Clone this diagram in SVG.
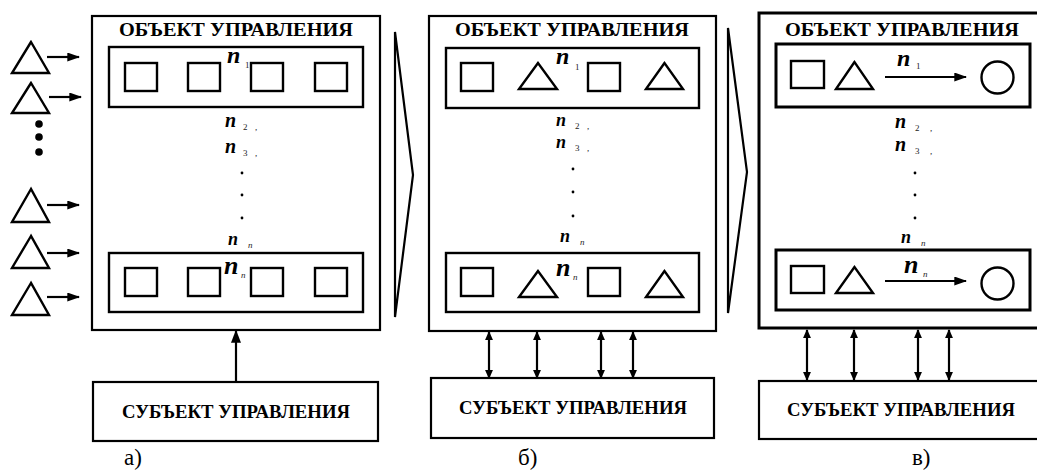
<svg xmlns="http://www.w3.org/2000/svg" width="1037" height="470" viewBox="0 0 1037 470">
  <style>
    .box { fill: none; stroke: #000; stroke-width: 2.2; }
    .boxc { fill: none; stroke: #000; stroke-width: 3; }
    .shape { fill: none; stroke: #000; stroke-width: 2.4; stroke-linejoin: miter; }
    .line { fill: none; stroke: #000; stroke-width: 2.2; }
    text { font-family: "Liberation Serif", "Times New Roman", "DejaVu Serif", serif; fill: #000; }
    .title { font-weight: bold; font-size: 19px; text-anchor: middle; }
    .nb { font-weight: bold; font-style: italic; }
    .sub { font-size: 9px; fill: #222; }
    .lbl { font-size: 23px; }
  </style>
  <defs>
    <!-- long filled head for one-way arrows -->
    <marker id="ah" viewBox="0 0 10 10" refX="9" refY="5" markerWidth="13" markerHeight="9" preserveAspectRatio="none" orient="auto-start-reverse" markerUnits="userSpaceOnUse">
      <path d="M0,0 L10,5 L0,10 z" fill="#000"/>
    </marker>
    <!-- short head for two-way links -->
    <marker id="ahs" viewBox="0 0 10 10" refX="9" refY="5" markerWidth="9" markerHeight="8" preserveAspectRatio="none" orient="auto-start-reverse" markerUnits="userSpaceOnUse">
      <path d="M0,0 L10,5 L0,10 z" fill="#000"/>
    </marker>
    <!-- head for the subject-to-object arrow -->
    <marker id="ahb" viewBox="0 0 10 10" refX="9" refY="5" markerWidth="13" markerHeight="10" preserveAspectRatio="none" orient="auto" markerUnits="userSpaceOnUse">
      <path d="M0,0 L10,5 L0,10 z" fill="#000"/>
    </marker>
  </defs>

  <rect width="1037" height="470" fill="#fff"/>

  <!-- Panel a: incoming elements -->
  <g id="inputs-a">
    <polygon class="shape" points="31,42 12,73 49,73"/>
    <polygon class="shape" points="31,83 12,113 49,113"/>
    <circle cx="39" cy="124" r="3.8"/>
    <circle cx="39" cy="137" r="3.8"/>
    <circle cx="39" cy="152" r="3.8"/>
    <polygon class="shape" points="31,189 12,222 49,222"/>
    <polygon class="shape" points="31,236 12,268 49,268"/>
    <polygon class="shape" points="31,283 12,315 49,315"/>
  </g>

  <!-- Panel a: control object -->
  <g id="object-a">
    <rect class="box" x="92" y="16" width="288" height="314"/>
    <text class="title" x="236" y="36" textLength="234" lengthAdjust="spacingAndGlyphs">ОБЪЕКТ УПРАВЛЕНИЯ</text>
    <rect class="shape" x="109" y="47" width="254" height="60"/>
    <rect class="shape" x="125" y="63" width="32" height="28"/>
    <rect class="shape" x="188" y="63" width="32" height="28"/>
    <rect class="shape" x="251" y="63" width="32" height="28"/>
    <rect class="shape" x="315" y="63" width="32" height="28"/>
    <text class="nb" x="227" y="63" font-size="24">n</text>
    <text class="sub" x="245" y="68">1</text>
    <text class="nb" x="225" y="127" font-size="20">n</text>
    <text class="sub" x="243" y="130">2</text>
    <text class="sub" x="255" y="130">,</text>
    <text class="nb" x="225" y="153" font-size="20">n</text>
    <text class="sub" x="243" y="156">3</text>
    <text class="sub" x="255" y="156">,</text>
    <circle cx="242" cy="173" r="1.4"/>
    <circle cx="242" cy="195" r="1.4"/>
    <circle cx="242" cy="218" r="1.4"/>
    <text class="nb" x="228" y="245" font-size="18">n</text>
    <text class="sub" x="248" y="248" font-size="7" font-style="italic">n</text>
    <rect class="shape" x="109" y="253" width="254" height="59"/>
    <rect class="shape" x="125" y="268" width="32" height="28"/>
    <rect class="shape" x="188" y="268" width="32" height="28"/>
    <rect class="shape" x="251" y="268" width="32" height="28"/>
    <rect class="shape" x="315" y="268" width="32" height="28"/>
    <text class="nb" x="224" y="274" font-size="26">n</text>
    <text class="sub" x="241" y="278" font-size="10" font-style="italic">n</text>
  </g>

  <!-- Panel a: control subject -->
  <g id="subject-a">
    <rect class="box" x="93" y="382" width="285" height="59"/>
    <text class="title" x="236" y="418" textLength="228" lengthAdjust="spacingAndGlyphs">СУБЪЕКТ УПРАВЛЕНИЯ</text>
  </g>

  <!-- Transition markers between panels -->
  <g id="step-ab">
    <polygon class="line" points="395,32 413,175 395,317"/>
  </g>
  <g id="step-bc">
    <polygon class="line" points="728,28 747,172 728,313"/>
  </g>

  <!-- Panel b: control object -->
  <g id="object-b">
    <rect class="box" x="429" y="16" width="287" height="315"/>
    <text class="title" x="572" y="36" textLength="234" lengthAdjust="spacingAndGlyphs">ОБЪЕКТ УПРАВЛЕНИЯ</text>
    <rect class="shape" x="446" y="48" width="253" height="60"/>
    <rect class="shape" x="461" y="63" width="32" height="28"/>
    <polygon class="shape" points="538,63 519,89 557,89"/>
    <rect class="shape" x="588" y="63" width="32" height="28"/>
    <polygon class="shape" points="664.5,63 646,89 683,89"/>
    <text class="nb" x="556" y="64" font-size="24">n</text>
    <text class="sub" x="575" y="70">1</text>
    <text class="nb" x="556" y="126" font-size="18">n</text>
    <text class="sub" x="575" y="129">2</text>
    <text class="sub" x="587" y="129">,</text>
    <text class="nb" x="556" y="148" font-size="18">n</text>
    <text class="sub" x="575" y="151">3</text>
    <text class="sub" x="587" y="151">,</text>
    <circle cx="573" cy="169" r="1.4"/>
    <circle cx="573" cy="192" r="1.4"/>
    <circle cx="573" cy="216" r="1.4"/>
    <text class="nb" x="560" y="242" font-size="18">n</text>
    <text class="sub" x="580" y="245" font-size="7" font-style="italic">n</text>
    <rect class="shape" x="446" y="253" width="253" height="59"/>
    <rect class="shape" x="461" y="268" width="32" height="28"/>
    <polygon class="shape" points="538,271 519,297 557,297"/>
    <rect class="shape" x="588" y="268" width="32" height="28"/>
    <polygon class="shape" points="664.5,271 646,297 683,297"/>
    <text class="nb" x="556" y="276" font-size="26">n</text>
    <text class="sub" x="573" y="280" font-size="10" font-style="italic">n</text>
  </g>

  <!-- Panel b: control subject -->
  <g id="subject-b">
    <rect class="box" x="431" y="378" width="283" height="60"/>
    <text class="title" x="573" y="414" textLength="228" lengthAdjust="spacingAndGlyphs">СУБЪЕКТ УПРАВЛЕНИЯ</text>
  </g>

  <!-- Panel c: control object -->
  <g id="object-c">
    <rect class="boxc" x="759" y="13" width="290" height="315"/>
    <text class="title" x="902" y="36" textLength="234" lengthAdjust="spacingAndGlyphs">ОБЪЕКТ УПРАВЛЕНИЯ</text>
    <rect class="boxc" x="776" y="44" width="254" height="63"/>
    <rect class="shape" x="791" y="61" width="33" height="27"/>
    <polygon class="shape" points="854.5,62 836,89 873,89"/>
    <circle class="shape" cx="997.5" cy="77.5" r="16"/>
    <text class="nb" x="897" y="66" font-size="24">n</text>
    <text class="sub" x="916" y="69">1</text>
    <text class="nb" x="895" y="128" font-size="20">n</text>
    <text class="sub" x="915" y="131">2</text>
    <text class="sub" x="930" y="131">,</text>
    <text class="nb" x="895" y="151" font-size="20">n</text>
    <text class="sub" x="915" y="154">3</text>
    <text class="sub" x="930" y="154">,</text>
    <circle cx="915" cy="173" r="1.4"/>
    <circle cx="915" cy="195" r="1.4"/>
    <circle cx="915" cy="218" r="1.4"/>
    <text class="nb" x="901" y="243" font-size="18">n</text>
    <text class="sub" x="921" y="246" font-size="7" font-style="italic">n</text>
    <rect class="boxc" x="776" y="250" width="254" height="60"/>
    <rect class="shape" x="791" y="266" width="33" height="27"/>
    <polygon class="shape" points="854.5,267 836,293 873,293"/>
    <circle class="shape" cx="997.5" cy="283.5" r="16"/>
    <text class="nb" x="904" y="273" font-size="26">n</text>
    <text class="sub" x="923" y="277" font-size="10" font-style="italic">n</text>
  </g>

  <!-- Panel c: control subject -->
  <g id="subject-c">
    <rect class="box" x="759" y="381" width="290" height="58"/>
    <text class="title" x="901" y="416" textLength="228" lengthAdjust="spacingAndGlyphs">СУБЪЕКТ УПРАВЛЕНИЯ</text>
  </g>

  <!-- Panel captions -->
  <g id="captions">
    <text class="lbl" x="124" y="465">а)</text>
    <text class="lbl" x="518" y="465">б)</text>
    <text class="lbl" x="912" y="465">в)</text>
  </g>

  <!-- Connectors -->
  <g id="connectors">
    <line class="line" x1="47" y1="57" x2="79" y2="57" marker-end="url(#ah)"/>
    <line class="line" x1="49" y1="97" x2="81" y2="97" marker-end="url(#ah)"/>
    <line class="line" x1="47" y1="205" x2="79" y2="205" marker-end="url(#ah)"/>
    <line class="line" x1="47" y1="253" x2="79" y2="253" marker-end="url(#ah)"/>
    <line class="line" x1="47" y1="297" x2="79" y2="297" marker-end="url(#ah)"/>

    <line class="line" x1="236" y1="382" x2="236" y2="331" stroke-width="2.8" marker-end="url(#ahb)"/>

    <line class="line" x1="489" y1="332" x2="489" y2="378" marker-start="url(#ahs)" marker-end="url(#ahs)"/>
    <line class="line" x1="537" y1="332" x2="537" y2="378" marker-start="url(#ahs)" marker-end="url(#ahs)"/>
    <line class="line" x1="601" y1="332" x2="601" y2="378" marker-start="url(#ahs)" marker-end="url(#ahs)"/>
    <line class="line" x1="633" y1="332" x2="633" y2="378" marker-start="url(#ahs)" marker-end="url(#ahs)"/>

    <line class="line" x1="807" y1="330" x2="807" y2="380" marker-start="url(#ahs)" marker-end="url(#ahs)"/>
    <line class="line" x1="854" y1="330" x2="854" y2="380" marker-start="url(#ahs)" marker-end="url(#ahs)"/>
    <line class="line" x1="918" y1="330" x2="918" y2="380" marker-start="url(#ahs)" marker-end="url(#ahs)"/>
    <line class="line" x1="949" y1="330" x2="949" y2="380" marker-start="url(#ahs)" marker-end="url(#ahs)"/>

    <line class="line" x1="885" y1="77" x2="966" y2="77" marker-end="url(#ah)"/>
    <line class="line" x1="885" y1="281" x2="966" y2="281" marker-end="url(#ah)"/>
  </g>
</svg>
